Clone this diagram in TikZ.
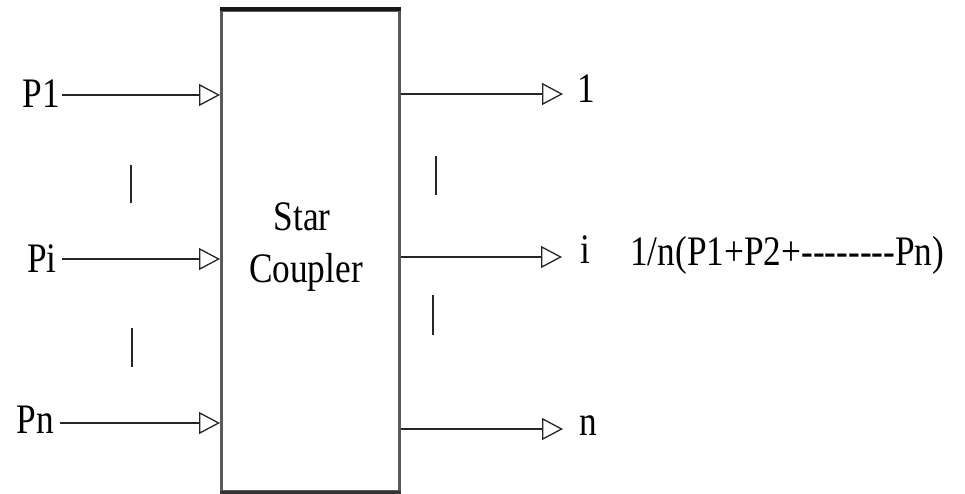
\documentclass[tikz,border=0pt]{standalone}
\usepackage{fontspec}
\setmainfont{Liberation Serif}[Ligatures=TeXOff]
\usetikzlibrary{arrows.meta}
\newcommand{\sq}[1]{\scalebox{0.84}[1]{#1}}
\begin{document}
\begin{tikzpicture}[x=1pt,y=-1pt,
  lbl/.style={font=\fontsize{42}{48}\selectfont, inner sep=0pt},
  conn/.style={line width=1.6pt, black!85, -{Triangle[open, length=21pt, width=22pt, line width=1.3pt]}},
  tickmark/.style={line width=2pt, black!85}]
\useasboundingbox (0,0) rectangle (965,494);
% box
\node[draw=black!65, line width=3pt, minimum width=178pt, minimum height=481pt, inner sep=0pt] (box) at (310.5,251) {};
\draw[line width=3.5pt, black!90] (box.north west) -- (box.north east);
\draw[line width=3.5pt, black!80] (box.south west) -- (box.south east);
\node[lbl, anchor=base] (star) at (302,230) {\sq{Star}};
\node[lbl, anchor=base] (coupler) at (306,282) {\sq{Coupler}};
% inputs
\node[lbl, anchor=base east] (P1) at (60,108) {\sq{P1}};
\node[lbl, anchor=base east] (Pi) at (57,272) {\sq{Pi}};
\node[lbl, anchor=base east] (Pn) at (54,433) {\sq{Pn}};
\coordinate (in1) at (62,95);
\coordinate (ini) at (62,259);
\coordinate (inn) at (60,423);
\draw[conn] (in1) -- (in1 -| box.west);
\draw[conn] (ini) -- (ini -| box.west);
\draw[conn] (inn) -- (inn -| box.west);
% outputs
\coordinate (o1) at (563,94);
\coordinate (oi) at (562,257);
\coordinate (on) at (563,429);
\draw[conn] (o1 -| box.east) -- (o1);
\draw[conn] (oi -| box.east) -- (oi);
\draw[conn] (on -| box.east) -- (on);
\node[lbl, anchor=base west] (L1) at (577,103) {\sq{1}};
\node[lbl, anchor=base west] (Li) at (580,263) {\sq{i}};
\node[lbl, anchor=base west] (Ln) at (579,435) {\sq{n}};
\node[lbl, anchor=base west] (sum) at (630,265) {\sq{1/n(P1+P2+--------Pn)}};
% ellipsis ticks
\draw[tickmark] (131,165) -- (131,203);
\draw[tickmark] (132,328) -- (132,367);
\draw[tickmark] (436,156) -- (436,195);
\draw[tickmark] (433,295) -- (433,335);
\end{tikzpicture}
\end{document}
